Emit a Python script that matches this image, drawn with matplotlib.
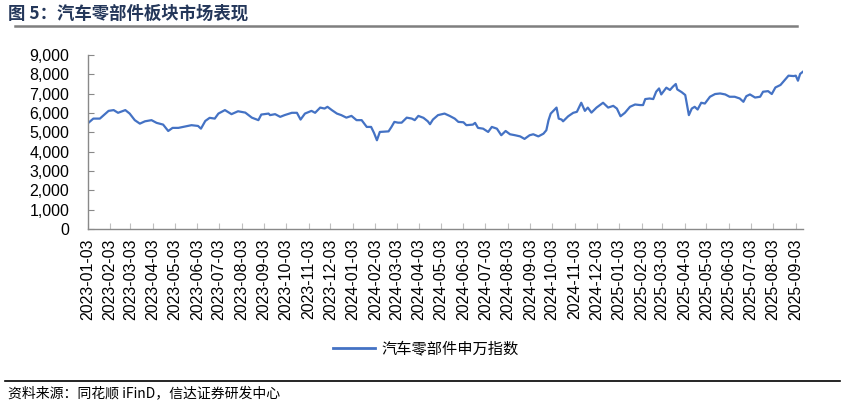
import numpy as np
import pandas as pd
import matplotlib
matplotlib.use('Agg')
import matplotlib.pyplot as plt
import matplotlib.dates as mdates
from matplotlib.ticker import FuncFormatter, MultipleLocator
from matplotlib.lines import Line2D

# 汽车零部件申万指数 (roughly weekly)
dates = [
    '2023-01-03', '2023-01-11', '2023-01-20', '2023-02-01', '2023-02-08', '2023-02-14',
    '2023-02-24', '2023-03-02', '2023-03-09', '2023-03-16', '2023-03-23', '2023-04-01',
    '2023-04-08', '2023-04-17', '2023-04-24', '2023-04-30', '2023-05-08', '2023-05-17',
    '2023-05-26', '2023-06-04', '2023-06-08', '2023-06-14', '2023-06-20', '2023-06-27',
    '2023-07-02', '2023-07-11', '2023-07-20', '2023-07-29', '2023-08-08', '2023-08-17',
    '2023-08-26', '2023-08-30', '2023-09-09', '2023-09-11', '2023-09-18', '2023-09-25',
    '2023-10-01', '2023-10-11', '2023-10-18', '2023-10-23', '2023-10-29', '2023-11-07',
    '2023-11-12', '2023-11-19', '2023-11-25', '2023-11-29', '2023-12-05', '2023-12-12',
    '2023-12-18', '2023-12-25', '2024-01-01', '2024-01-08', '2024-01-15', '2024-01-22',
    '2024-01-28', '2024-02-01', '2024-02-05', '2024-02-09', '2024-02-21', '2024-02-25',
    '2024-02-29', '2024-03-05', '2024-03-10', '2024-03-17', '2024-03-24', '2024-03-28',
    '2024-04-02', '2024-04-09', '2024-04-15', '2024-04-18', '2024-04-22', '2024-04-29',
    '2024-05-08', '2024-05-15', '2024-05-22', '2024-05-27', '2024-06-03', '2024-06-07',
    '2024-06-16', '2024-06-19', '2024-06-23', '2024-06-30', '2024-07-07', '2024-07-12',
    '2024-07-19', '2024-07-25', '2024-07-31', '2024-08-06', '2024-08-13', '2024-08-20',
    '2024-08-26', '2024-09-02', '2024-09-07', '2024-09-14', '2024-09-21', '2024-09-25',
    '2024-09-28', '2024-10-01', '2024-10-09', '2024-10-12', '2024-10-16', '2024-10-18',
    '2024-10-25', '2024-11-01', '2024-11-06', '2024-11-12', '2024-11-17', '2024-11-21',
    '2024-11-26', '2024-12-03', '2024-12-12', '2024-12-19', '2024-12-26', '2024-12-31',
    '2025-01-05', '2025-01-11', '2025-01-18', '2025-01-25', '2025-02-01', '2025-02-05',
    '2025-02-08', '2025-02-14', '2025-02-19', '2025-02-23', '2025-02-27', '2025-03-02',
    '2025-03-09', '2025-03-14', '2025-03-18', '2025-03-22', '2025-03-24', '2025-03-30',
    '2025-04-04', '2025-04-07', '2025-04-09', '2025-04-13', '2025-04-17', '2025-04-21',
    '2025-04-26', '2025-05-01', '2025-05-08', '2025-05-15', '2025-05-22', '2025-05-29',
    '2025-06-04', '2025-06-11', '2025-06-18', '2025-06-23', '2025-06-27', '2025-07-02',
    '2025-07-09', '2025-07-16', '2025-07-20', '2025-07-27', '2025-08-01', '2025-08-06',
    '2025-08-13', '2025-08-18', '2025-08-24', '2025-08-31', '2025-09-03', '2025-09-06',
    '2025-09-09', '2025-09-13',
]
index_values = [
    5450, 5710, 5710, 6110, 6150, 6010,
    6150, 5970, 5630, 5450, 5570, 5630,
    5490, 5400, 5070, 5230, 5230, 5300,
    5370, 5330, 5190, 5590, 5750, 5710,
    5970, 6150, 5940, 6090, 6020, 5760,
    5630, 5920, 5970, 5890, 5940, 5800,
    5890, 6010, 6010, 5660, 5970, 6110,
    6010, 6280, 6230, 6320, 6150, 5970,
    5890, 5760, 5850, 5630, 5630, 5280,
    5280, 4970, 4590, 5020, 5050, 5280,
    5540, 5500, 5500, 5760, 5710, 5630,
    5850, 5750, 5570, 5420, 5660, 5890,
    5970, 5850, 5710, 5540, 5520, 5370,
    5400, 5490, 5230, 5190, 5020, 5280,
    5190, 4850, 5070, 4900, 4850, 4790,
    4660, 4850, 4900, 4790, 4930, 5110,
    5630, 5970, 6280, 5710, 5660, 5570,
    5830, 6010, 6060, 6530, 6110, 6280,
    6020, 6280, 6530, 6280, 6370, 6230,
    5830, 6010, 6320, 6440, 6410, 6410,
    6720, 6750, 6720, 7100, 7270, 6960,
    7310, 7190, 7360, 7500, 7220, 7080,
    6930, 6320, 5890, 6230, 6320, 6180,
    6530, 6490, 6840, 6980, 7010, 6960,
    6840, 6840, 6750, 6580, 6870, 6960,
    6800, 6840, 7100, 7130, 6980, 7320,
    7450, 7670, 7930, 7910, 7930, 7670,
    8020, 8140,
]
# monthly ticks on the 3rd, 2023-01-03 .. 2025-09-03
tick_dates = pd.date_range('2023-01-01', '2025-09-01', freq='MS') + pd.Timedelta(days=2)
series_name = '汽车零部件申万指数'
title_text = '图 5：汽车零部件板块市场表现'
source_text = '资料来源：同花顺 iFinD，信达证券研发中心'

cjk = ['Noto Sans CJK SC', 'DejaVu Sans']
plt.rcParams['font.family'] = ['Liberation Sans', 'Noto Sans CJK SC', 'DejaVu Sans']

blue = '#4472C4'
grey = '#898989'

fig = plt.figure(figsize=(8.43, 4.07), dpi=100)
ax = fig.add_axes([0.1038, 0.4373, 0.8488, 0.4276])

x = pd.to_datetime(dates)
ax.plot(x, index_values, color=blue, linewidth=1.6)

ax.set_xlim(pd.Timestamp('2023-01-03'), pd.Timestamp('2025-09-13'))
ax.set_ylim(0, 9000)
ax.yaxis.set_major_locator(MultipleLocator(1000))
ax.yaxis.set_major_formatter(FuncFormatter(lambda v, p: f'{int(v):,}'))
ax.set_xticks(tick_dates)
ax.xaxis.set_major_formatter(mdates.DateFormatter('%Y-%m-%d'))

ax.spines['right'].set_visible(False)
ax.spines['top'].set_visible(False)
for s in ('left', 'bottom'):
    ax.spines[s].set_color(grey)
    ax.spines[s].set_linewidth(1.0)
ax.tick_params(axis='x', direction='in', length=4, color='#bfbfbf', pad=7,
               labelsize=11.5, labelrotation=90)
ax.tick_params(axis='y', direction='in', length=4, color=grey, pad=13,
               labelsize=11.5)

# legend under the chart
handle = Line2D([], [], color=blue, linewidth=2)
fig.legend([handle], [series_name], loc='center', bbox_to_anchor=(0.505, 0.143),
           frameon=False, handlelength=2.8, handletextpad=0.4,
           prop={'family': cjk, 'size': 11})

# title and rules
fig.text(0.009, 0.966, title_text, fontsize=12.5, fontweight='bold',
         color='#24375A', family=cjk, va='center', ha='left')
fig.add_artist(Line2D([0.018, 0.946], [0.936, 0.936], color='#7f7f7f',
                      linewidth=1.8, transform=fig.transFigure))
fig.add_artist(Line2D([0.006, 0.997], [0.064, 0.064], color='black',
                      linewidth=1.2, transform=fig.transFigure))
fig.text(0.009, 0.034, source_text, fontsize=10, color='black', family=cjk,
         va='center', ha='left')

fig.savefig('out.png', dpi=100)
